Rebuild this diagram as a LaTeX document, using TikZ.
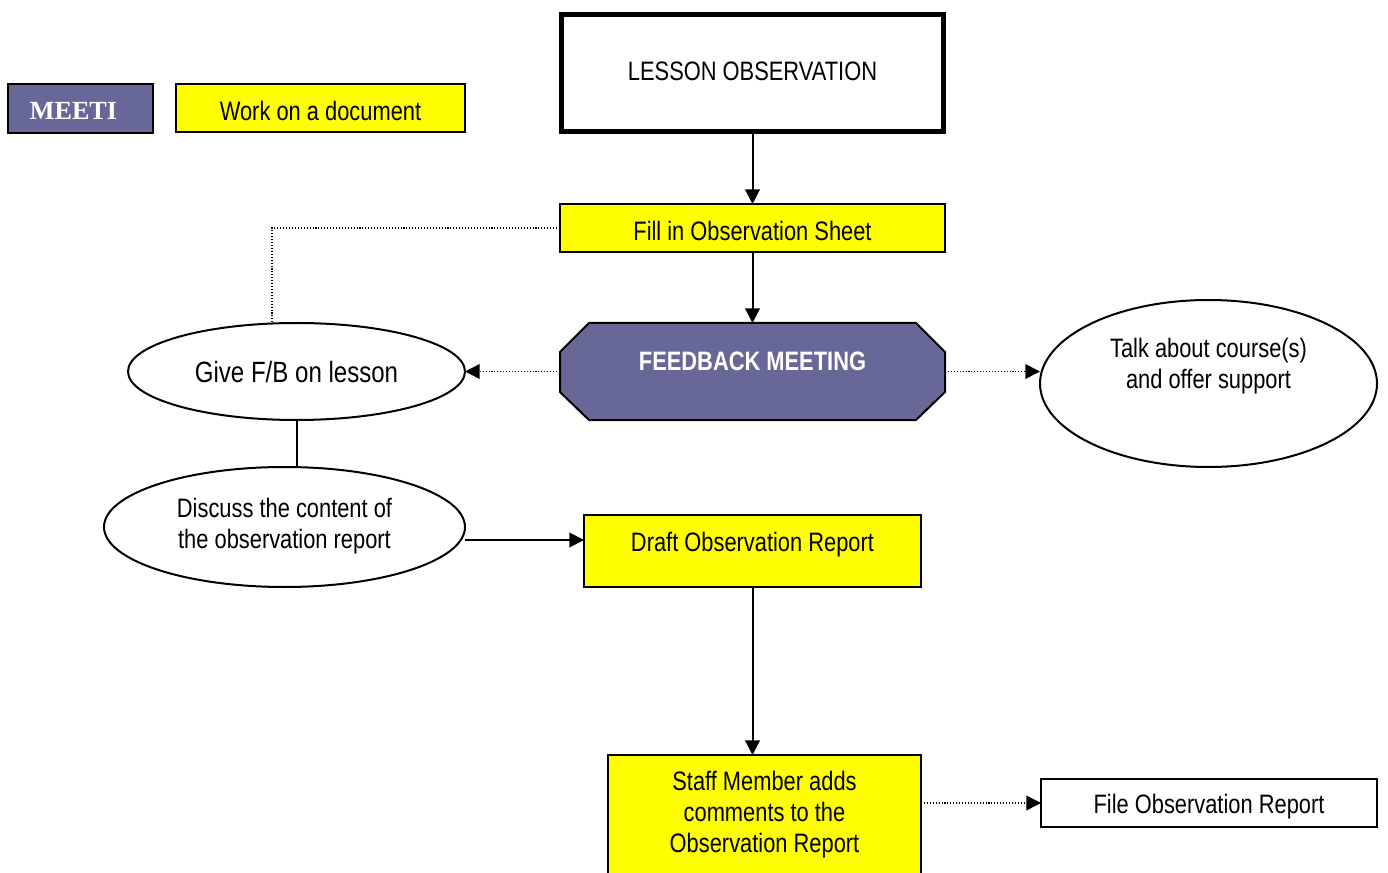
\documentclass[tikz,border=0pt]{standalone}
\usepackage{fontspec}
\setmainfont[FakeStretch=0.82]{Liberation Sans}
\newfontfamily\meetifont{Liberation Serif}
\usetikzlibrary{arrows.meta,shapes.geometric}
\definecolor{meetc}{HTML}{686898}
\definecolor{docy}{HTML}{FFFF00}
\begin{document}
\begin{tikzpicture}[x=0.75pt,y=-0.75pt,
  every node/.style={font=\fontsize{20}{23.5}\selectfont, inner sep=0pt, outer sep=0pt},
  boxs/.style={draw, line width=1.5pt, rectangle},
  docbox/.style={boxs, fill=docy},
  ell/.style={draw, line width=1.5pt, ellipse, fill=white},
  lbl/.style={align=center, font=\fontsize{20}{23.5}\selectfont},
  arr/.style={line width=1.5pt, -{Triangle[length=11pt,width=11pt]}},
  dotarr/.style={line width=1.1pt, dash pattern=on 0.8pt off 1.4pt, -{Triangle[length=11pt,width=11pt]}},
  dotline/.style={line width=1.1pt, dash pattern=on 0.8pt off 1.4pt}
]
\useasboundingbox (0,0) rectangle (1388,873);

% legend
\node[boxs, fill=meetc, minimum width=108.75pt, minimum height=36.75pt,
  label={[text=white, font=\meetifont\bfseries\fontsize{19.6}{22}\selectfont, xshift=-5.25pt, yshift=-1.9pt]center:MEETI}] (meeti) at (80.5,108.5) {};
\node[docbox, minimum width=216.75pt, minimum height=36pt,
  label={[lbl, yshift=-2.25pt]center:Work on a document}] (work) at (320.5,108) {};

% main column
\node[draw, line width=3.75pt, fill=white, minimum width=286.5pt, minimum height=87.75pt,
  label={[lbl, yshift=1pt]center:LESSON OBSERVATION}] (lesson) at (752.5,73) {};
\node[docbox, minimum width=288.75pt, minimum height=36pt,
  label={[lbl, yshift=-2.25pt]center:Fill in Observation Sheet}] (fill) at (752.5,228) {};

% feedback meeting octagon
\node[minimum width=288.75pt, minimum height=72.75pt] (fb) at (752.5,371.5) {};
\coordinate (o1) at (589,323);
\coordinate (o2) at (916,323);
\coordinate (o3) at (945,352);
\coordinate (o4) at (945,392);
\coordinate (o5) at (916,420);
\coordinate (o6) at (589,420);
\coordinate (o7) at (560,392);
\coordinate (o8) at (560,352);
\filldraw[fill=meetc, line width=1.5pt, line join=miter] (o1) -- (o2) -- (o3) -- (o4) -- (o5) -- (o6) -- (o7) -- (o8) -- cycle;
\node[text=white, font=\bfseries\fontsize{20}{23.5}\selectfont] (fbt) at (752.5,361) {FEEDBACK MEETING};

\node[ell, minimum width=252.75pt, minimum height=72.75pt,
  label={[font=\fontsize{22}{26}\selectfont, yshift=-0.5pt]center:Give F/B on lesson}] (give) at (296.5,371.5) {};
\node[ell, minimum width=252.75pt, minimum height=125.25pt,
  label={[lbl, yshift=13pt]center:Talk about course(s)\\and offer support}] (talk) at (1208.5,383.5) {};
\node[ell, minimum width=270.75pt, minimum height=90pt,
  label={[lbl, yshift=0.5pt]center:Discuss the content of\\the observation report}] (disc) at (284.5,527) {};

\node[docbox, minimum width=252.75pt, minimum height=54pt,
  label={[lbl, yshift=5pt]center:Draft Observation Report}] (draft) at (752.5,551) {};
\node[docbox, minimum width=234.75pt, minimum height=101.25pt] (staff) at (764.5,822.5) {};
\node[lbl] (stafft) at (764.5,814.5) {Staff Member adds\\comments to the\\Observation Report};
\node[boxs, fill=white, minimum width=252pt, minimum height=36pt,
  label={[lbl, yshift=-3pt]center:File Observation Report}] (file) at (1209,803) {};

% connectors
\draw[arr] (lesson.south) -- (fill.north);
\draw[arr] (fill.south) -- (fb.north);
\draw[dotline] (fill.west) -| ([xshift=-18.4pt]give.north);
\draw[dotarr] (fb.west) -- (give.east);
\draw[dotarr] (fb.east) -- (talk.west |- fb.east);
\draw[line width=1.5pt] (give.south) -- (give.south |- disc.north);
\coordinate (a1) at ([yshift=8.25pt]draft.west);
\draw[arr] (disc.east |- a1) -- (a1);
\draw[arr] (draft.south) -- (staff.north -| draft.south);
\draw[dotarr] (staff.east |- file.west) -- (file.west);
\end{tikzpicture}
\end{document}
